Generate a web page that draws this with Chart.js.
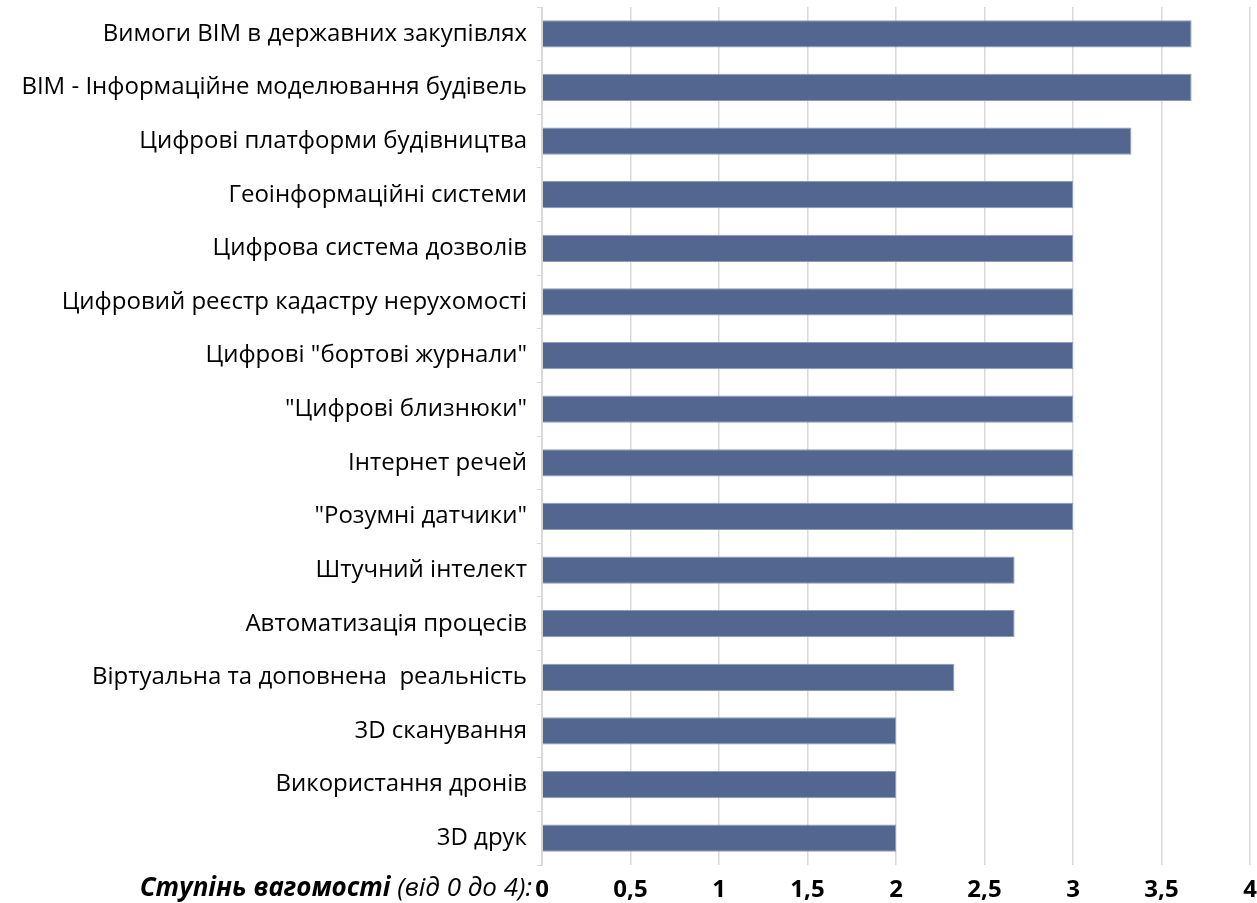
<!DOCTYPE html>
<html lang="uk">
<head>
<meta charset="utf-8">
<title>Ступінь вагомості цифрових технологій</title>
<script src="https://cdn.jsdelivr.net/npm/chart.js@4.4.1/dist/chart.umd.min.js"></script>
<style>
  html, body { margin: 0; padding: 0; background: #fff; }
  #wrap { width: 1257px; height: 903px; position: relative; }
</style>
</head>
<body>
<div id="wrap"><canvas id="chart"></canvas></div>
<script>
"use strict";

// ----------------------------
// Data
// ----------------------------
const categories = [
  "Вимоги BIM в державних закупівлях",
  "BIM - Інформаційне моделювання будівель",
  "Цифрові платформи будівництва",
  "Геоінформаційні системи",
  "Цифрова система дозволів",
  "Цифровий реєстр кадастру нерухомості",
  "Цифрові \"бортові журнали\"",
  "\"Цифрові близнюки\"",
  "Інтернет речей",
  "\"Розумні датчики\"",
  "Штучний інтелект",
  "Автоматизація процесів",
  "Віртуальна та доповнена  реальність",
  "3D сканування",
  "Використання дронів",
  "3D друк"
];
const weights = [3.67, 3.67, 3.33, 3, 3, 3, 3, 3, 3, 3, 2.67, 2.67, 2.33, 2, 2, 2];
const xMin = 0;
const xMax = 4;
const xStep = 0.5;
const axisTitleBold = "Ступінь вагомості";
const axisTitleRest = " (від 0 до 4):";

const FONT = "'Open Sans', Lato, sans-serif";
const PLOT_LEFT = 542;
const PLOT_BOTTOM = 865;

// draws the mixed bold-italic / italic axis title left of the "0" tick
const axisTitlePlugin = {
  id: "axisTitle",
  afterDraw(chart) {
    const ctx = chart.ctx;
    const x = chart.scales.x;
    const y = 889;
    ctx.save();
    ctx.textBaseline = "middle";
    ctx.fillStyle = "#000";
    ctx.font = "italic 26px " + FONT;
    const restW = ctx.measureText(axisTitleRest).width;
    ctx.font = "italic bold 26px " + FONT;
    const boldW = ctx.measureText(axisTitleBold).width;
    const right = x.left - 10;
    ctx.textAlign = "left";
    ctx.fillText(axisTitleBold, right - restW - boldW, y);
    ctx.font = "italic 26px " + FONT;
    ctx.fillText(axisTitleRest, right - restW, y);
    ctx.restore();
  }
};

const ctx = document.getElementById("chart").getContext("2d");
new Chart(ctx, {
  type: "bar",
  data: {
    labels: categories,
    datasets: [{
      data: weights,
      backgroundColor: "#52668f",
      borderColor: "#8d9bbb",
      borderWidth: 1,
      barPercentage: 0.51,
      categoryPercentage: 1.0
    }]
  },
  options: {
    indexAxis: "y",
    responsive: true,
    maintainAspectRatio: false,
    animation: false,
    layout: { padding: { top: 7, right: 7, left: 0, bottom: 0 } },
    plugins: {
      legend: { display: false },
      tooltip: { enabled: false }
    },
    scales: {
      x: {
        min: xMin,
        max: xMax,
        ticks: {
          stepSize: xStep,
          color: "#000",
          padding: 11,
          font: { family: FONT, size: 24, weight: "bold" },
          callback: v => String(v).replace(".", ",")
        },
        grid: { color: "#d9d9d9", lineWidth: 1.5, drawTicks: false },
        border: { display: false },
        afterFit: s => {
          s.height = 903 - PLOT_BOTTOM;
          s.paddingLeft = 0;
          s.paddingRight = 0;
        }
      },
      y: {
        ticks: {
          color: "#000",
          padding: 10,
          font: { family: FONT, size: 24 }
        },
        grid: {
          offset: true,
          drawOnChartArea: false,
          tickLength: 5,
          color: "#d9d9d9"
        },
        border: { display: true, color: "#d9d9d9" },
        afterFit: s => {
          s.width = PLOT_LEFT;
          s.paddingTop = 0;
          s.paddingBottom = 0;
        }
      }
    }
  },
  plugins: [axisTitlePlugin]
});
</script>
</body>
</html>
